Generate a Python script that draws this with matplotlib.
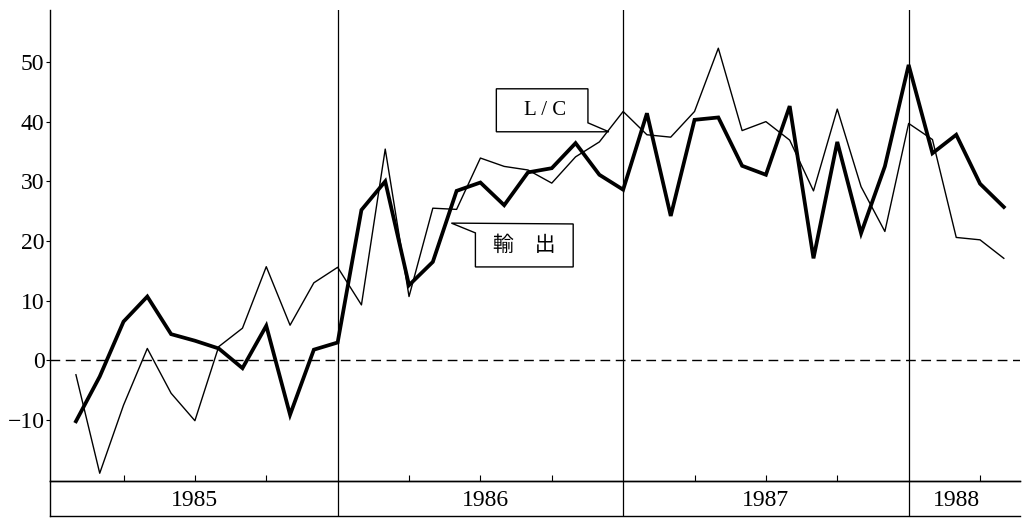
import matplotlib
matplotlib.use('Agg')
import matplotlib.pyplot as plt
from matplotlib.patches import Polygon

# Monate ab Jan 1985 (1 = Jan 1985, 40 = Apr 1988)
months = list(range(1, 41))

# 輸出 (dicke Linie), Veränderung gegen Vorjahr in %
exports = [
    -10.2, -2.7, 6.5, 10.7, 4.4, 3.3, 2.0, -1.3, 5.8, -9.1, 1.8, 3.0,    # 1985
    25.2, 30.0, 12.6, 16.5, 28.4, 29.8, 26.0, 31.5, 32.2, 36.4, 31.1, 28.6,  # 1986
    41.4, 24.2, 40.3, 40.7, 32.6, 31.1, 42.6, 17.1, 36.6, 21.3, 32.5, 49.5,  # 1987
    34.7, 37.8, 29.6, 25.7,  # 1988
]

# L/C (dünne Linie)
lc = [
    -2.4, -18.9, -7.5, 2.0, -5.5, -10.1, 2.3, 5.4, 15.7, 5.9, 13.0, 15.6,
    9.3, 35.4, 10.7, 25.5, 25.3, 33.9, 32.5, 31.9, 29.7, 34.1, 36.6, 41.7,
    37.8, 37.4, 41.7, 52.3, 38.5, 40.0, 36.9, 28.4, 42.1, 29.1, 21.6, 39.7,
    37.0, 20.6, 20.2, 17.1,
]

years = ['1985', '1986', '1987', '1988']
year_label_pos = [6.0, 18.2, 30.0, 38.0]
year_lines = [12, 24, 36]
quarter_ticks = [3, 6, 9, 15, 18, 21, 27, 30, 33, 39]
yticks = [-10, 0, 10, 20, 30, 40, 50]
ytick_labels = ['\u221210', '0', '10', '20', '30', '40', '50']

W, H = 1023, 522
fig = plt.figure(figsize=(W / 100, H / 100), dpi=100)
fig.patch.set_facecolor('white')

serif = ['Liberation Serif', 'DejaVu Serif']
cjk = ['Noto Sans CJK JP', 'DejaVu Sans']

xmin, xmax = -0.09, 40.68
ax = fig.add_axes([50 / W, (H - 481) / H, (1020 - 50) / W, (481 - 10) / H])
ax.set_xlim(xmin, xmax)
ax.set_ylim(-20.2, 58.7)
for s in ['top', 'right']:
    ax.spines[s].set_visible(False)
ax.spines['left'].set_linewidth(1.0)
ax.spines['bottom'].set_linewidth(1.0)

ax.set_yticks(yticks)
ax.set_yticklabels(ytick_labels, family=serif, fontsize=17)
ax.tick_params(axis='y', direction='out', length=3, width=0.8, pad=1)
ax.set_xticks(quarter_ticks)
ax.set_xticklabels([])
ax.tick_params(axis='x', direction='in', length=4, width=0.8)

ax.axhline(0, color='black', lw=1.0, ls=(0, (7, 4)))
for yl in year_lines:
    ax.axvline(yl, color='black', lw=0.9)

ax.plot(months, lc, color='black', lw=1.0)
ax.plot(months, exports, color='black', lw=2.7, solid_joinstyle='miter')

# Beschriftungen
lc_box = Polygon([(18.67, 45.5), (22.52, 45.5), (22.52, 39.8), (23.40, 38.3), (18.67, 38.3)],
                 closed=True, fill=True, facecolor='white', edgecolor='black', lw=1.0, zorder=5)
ax.add_patch(lc_box)
ax.text(20.72, 41.8, 'L / C', family=serif, fontsize=15, ha='center', va='center', zorder=6)

ex_box = Polygon([(16.78, 23.0), (21.9, 22.86), (21.9, 15.66), (17.79, 15.66), (17.79, 21.36)],
                 closed=True, fill=True, facecolor='white', edgecolor='black', lw=1.0, zorder=5)
ax.add_patch(ex_box)
ax.text(19.84, 19.3, '輸\u3000出', family=cjk, fontsize=15, ha='center', va='center', zorder=6)

# Jahresband unten
band = fig.add_axes([50 / W, (H - 516) / H, (1020 - 50) / W, (516 - 481) / H])
band.set_xlim(xmin, xmax)
band.set_ylim(0, 1)
band.spines['right'].set_visible(False)
for s in ['top', 'left', 'bottom']:
    band.spines[s].set_linewidth(1.0)
band.set_xticks([])
band.set_yticks([])
band.patch.set_alpha(0)
for yl in year_lines:
    band.axvline(yl, color='black', lw=0.9)
for pos, yr in zip(year_label_pos, years):
    band.text(pos, 0.45, yr, family=serif, fontsize=17, ha='center', va='center')

fig.savefig('out.png', dpi=100)
